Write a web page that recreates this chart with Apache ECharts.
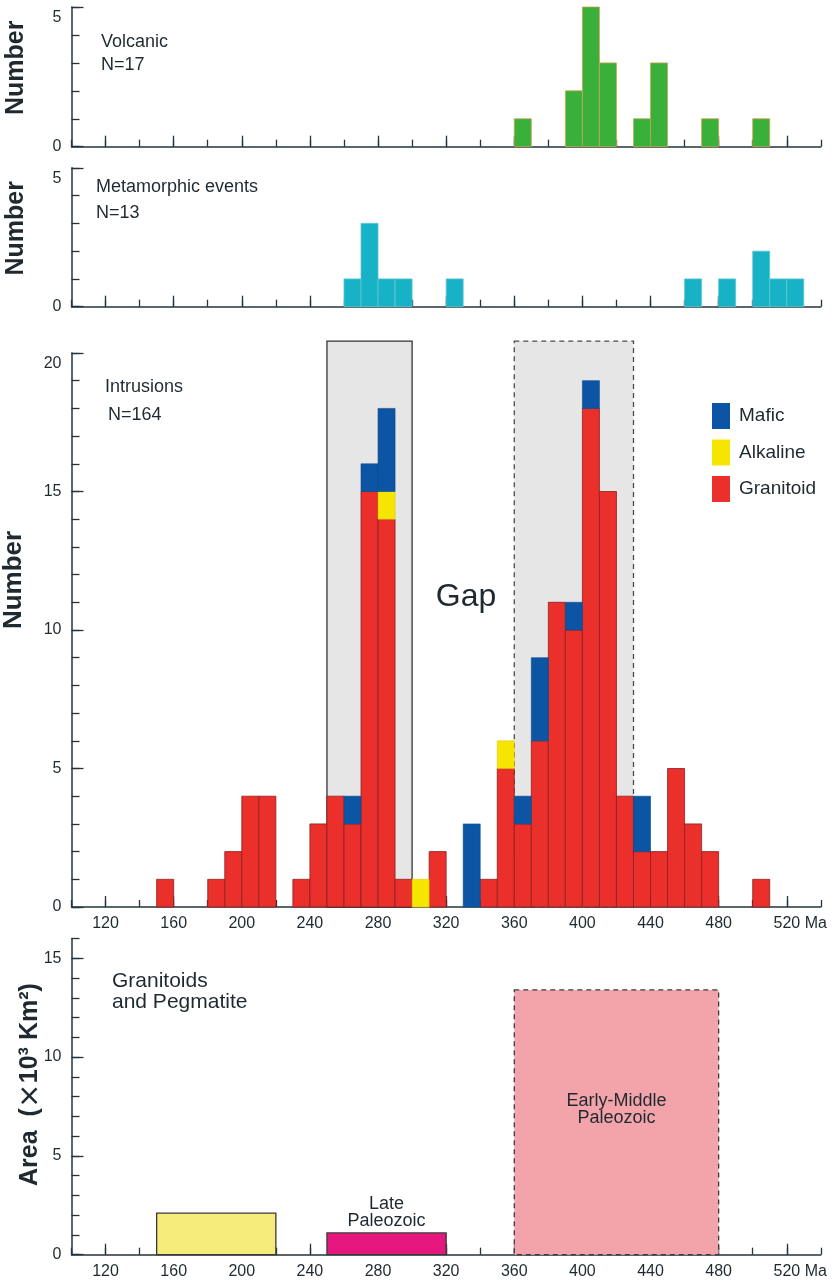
<!DOCTYPE html>
<html><head><meta charset="utf-8">
<script src="https://cdn.jsdelivr.net/npm/echarts@6/dist/echarts.min.js"></script>
<style>html,body{margin:0;padding:0;background:#fff}#c{width:833px;height:1287px}</style>
</head><body><div id="c"></div>
<script>
// ---------------- data ----------------
const BIN = 10; // Ma, histogram bin width
const volcanicBins   = [360, 390, 400, 410, 430, 440, 470, 500];
const volcanicCounts = [1, 2, 5, 3, 1, 3, 1, 1];

const metamorphicBins   = [260, 270, 280, 290, 320, 460, 480, 500, 510, 520];
const metamorphicCounts = [1, 3, 1, 1, 1, 1, 1, 2, 1, 1];

const intrusionBins = [150,180,190,200,210,230,240,250,260,270,280,290,300,310,330,340,350,360,370,380,390,400,410,420,430,440,450,460,470,500];
const granitoid     = [1,  1,  2,  4,  4,  1,  3,  4,  3,  15, 14, 1,  0,  2,  0,  1,  5,  3,  6,  11, 10, 18, 15, 4,  2,  2,  5,  3,  2,  1];
const alkaline      = [0,  0,  0,  0,  0,  0,  0,  0,  0,  0,  1,  0,  1,  0,  0,  0,  1,  0,  0,  0,  0,  0,  0,  0,  0,  0,  0,  0,  0,  0];
const mafic         = [0,  0,  0,  0,  0,  0,  0,  0,  1,  1,  3,  0,  0,  0,  3,  0,  0,  1,  3,  0,  1,  1,  0,  0,  2,  0,  0,  0,  0,  0];

const gapStart  = [250, 360];
const gapEnd    = [300, 430];
const gapTop    = [20.43, 20.43];
const gapDashed = [false, true];

const areaStart  = [150, 250, 360];
const areaEnd    = [220, 320, 480];
const areaValue  = [2.1, 1.1, 13.4];
const areaLabels = ['', 'Late\nPaleozoic', 'Early-Middle\nPaleozoic'];

const xMajorTicks = [120, 160, 200, 240, 280, 320, 360, 400, 440, 480, 520];

// ---------------- styling / layout ----------------
const FONT = "'Liberation Sans', Arial, sans-serif";
const AX = '#24343c';
const TXT = '#1f2a30';
const C = { green:'#39b03a', cyan:'#17b2c6', red:'#eb2f2b', yellow:'#f6e500', blue:'#0b55a4',
            gray:'#e6e6e6', ayellow:'#f6ec7a', magenta:'#e5177e', pink:'#f3a4aa' };
const L = 71.5, PX = 1.703, W = 440 * PX;
const TL = L + 20 * PX, TW = 400 * PX;
const panels = [
  { top: 7,     bottom: 146.7, max: 5 },
  { top: 167.8, bottom: 306.7, max: 5 },
  { top: 353,   bottom: 907,   max: 20 },
  { top: 938.5, bottom: 1254.7, max: 16 }
];
const areaUnit = (1254.7 - 938.5) / 16;

const grids = [];
panels.forEach(p => grids.push({ left: L, width: W, top: p.top, height: p.bottom - p.top, outerBoundsMode: 'none' }));
panels.forEach((p, i) => {
  const top = i === 3 ? p.top + areaUnit : p.top;
  grids.push({ left: TL, width: TW, top: top, height: p.bottom - top, outerBoundsMode: 'none' });
});

function primaryX(gi) {
  return { gridIndex: gi, type: 'value', min: 100, max: 540, interval: 20,
    axisLine: { show: true, onZero: false, lineStyle: { color: AX, width: 1.5 } },
    axisTick: { show: true, inside: true, length: 7, lineStyle: { color: AX, width: 1.3 } },
    axisLabel: { show: false }, splitLine: { show: false } };
}
function tickX(gi, showLabels) {
  return { gridIndex: gi, type: 'value', min: xMajorTicks[0], max: xMajorTicks[xMajorTicks.length - 1], interval: 40,
    axisLine: { show: false },
    axisTick: { show: true, inside: true, length: 11, lineStyle: { color: AX, width: 1.3 } },
    axisLabel: { show: showLabels, margin: 9, color: TXT, fontSize: 16, fontFamily: FONT,
      formatter: v => v === 520 ? '{p|}{n|520}{n| Ma}' : String(v),
      rich: { p: { width: 27 }, n: { fontSize: 16, fontFamily: FONT, color: TXT } } },
    splitLine: { show: false } };
}
function primaryY(gi, max, name, nameGap, pad, fs, rich) {
  return { gridIndex: gi, type: 'value', min: 0, max: max, interval: 1,
    axisLine: { show: true, onZero: false, lineStyle: { color: AX, width: 1.5 } },
    axisTick: { show: true, inside: true, length: 8, lineStyle: { color: AX, width: 1.3 } },
    axisLabel: { show: false }, splitLine: { show: false },
    name: name, nameLocation: 'middle', nameGap: nameGap,
    nameTextStyle: { fontSize: fs, fontWeight: 'bold', fontFamily: FONT, color: TXT, padding: pad, rich: rich || {} } };
}
function tickY(gi, max, shiftTop) {
  return { gridIndex: gi, type: 'value', min: 0, max: max, interval: 5, offset: TL - L,
    axisLine: { show: false },
    axisTick: { show: true, inside: true, length: 12, lineStyle: { color: AX, width: 1.3 } },
    axisLabel: { show: true, margin: 10, color: TXT, fontSize: 16, fontFamily: FONT,
      formatter: v => (shiftTop && v === max) ? '{t|' + v + '}' : String(v),
      rich: { t: { padding: [21, 0, 0, 0], fontSize: 16, fontFamily: FONT, color: TXT } } },
    splitLine: { show: false } };
}

const areaRich = { x: { fontSize: 25, fontFamily: "'Noto Sans CJK SC', sans-serif", color: TXT } };
const xAxes = [primaryX(0), primaryX(1), primaryX(2), primaryX(3),
               tickX(4, false), tickX(5, false), tickX(6, true), tickX(7, true)];
const yAxes = [
  primaryY(0, 5, 'Number', 43, [0, 0, 0, 18], 25),
  primaryY(1, 5, 'Number', 43, [0, 0, 0, 18], 25),
  primaryY(2, 20, 'Number', 45, [0, 0, 0, 100], 26),
  primaryY(3, 16, 'Area  ({x|\u00d7}10\u00b3 Km\u00b2)', 29, [0, 0, 0, 24], 25, areaRich),
  tickY(4, 5, true), tickY(5, 5, true), tickY(6, 20, true), tickY(7, 15, false)
];

function barRender(fill, stroke, lw) {
  return function (params, api) {
    const s = api.value(0), v = api.value(1), b = api.value(2);
    const p0 = api.coord([s, b + v]);
    const p1 = api.coord([s + BIN, b]);
    return { type: 'rect', shape: { x: p0[0], y: p0[1], width: p1[0] - p0[0], height: p1[1] - p0[1] },
      style: { fill: fill, stroke: stroke, lineWidth: lw } };
  };
}
function histData(bins, vals, bases) {
  const out = [];
  bins.forEach((b, i) => { if (vals[i] > 0) out.push([b, vals[i], bases ? bases[i] : 0]); });
  return out;
}
const alkBase = granitoid.slice();
const mafBase = granitoid.map((g, i) => g + alkaline[i]);

const series = [
  { type: 'custom', name: 'Volcanic', xAxisIndex: 0, yAxisIndex: 0, z: 3,
    data: histData(volcanicBins, volcanicCounts), renderItem: barRender(C.green, '#c9a552', 0.8) },
  { type: 'custom', name: 'Metamorphic', xAxisIndex: 1, yAxisIndex: 1, z: 3,
    data: histData(metamorphicBins, metamorphicCounts), renderItem: barRender(C.cyan, '#63c6d2', 0.8) },
  { type: 'custom', name: 'Gap boxes', xAxisIndex: 2, yAxisIndex: 2, z: 1,
    data: gapStart.map((s, i) => [s, gapEnd[i], gapTop[i], gapDashed[i] ? 1 : 0]),
    renderItem: function (params, api) {
      const p0 = api.coord([api.value(0), api.value(2)]);
      const p1 = api.coord([api.value(1), 0]);
      const dashed = api.value(3) === 1;
      return { type: 'rect', shape: { x: p0[0], y: p0[1], width: p1[0] - p0[0], height: p1[1] - p0[1] },
        style: { fill: C.gray, stroke: dashed ? '#4a4a4a' : '#333', lineWidth: 1.3, lineDash: dashed ? [5, 4] : null } };
    } },
  { type: 'custom', name: 'Granitoid', xAxisIndex: 2, yAxisIndex: 2, z: 3, itemStyle: { color: C.red },
    data: histData(intrusionBins, granitoid), renderItem: barRender(C.red, '#8c2020', 0.8) },
  { type: 'custom', name: 'Alkaline', xAxisIndex: 2, yAxisIndex: 2, z: 3, itemStyle: { color: C.yellow },
    data: histData(intrusionBins, alkaline, alkBase), renderItem: barRender(C.yellow, '#e0c800', 0.6) },
  { type: 'custom', name: 'Mafic', xAxisIndex: 2, yAxisIndex: 2, z: 3, itemStyle: { color: C.blue },
    data: histData(intrusionBins, mafic, mafBase), renderItem: barRender(C.blue, '#0b4a8c', 0.6) },
  { type: 'custom', name: 'Area', xAxisIndex: 3, yAxisIndex: 3, z: 3,
    data: areaStart.map((s, i) => [s, areaEnd[i], areaValue[i], i]),
    renderItem: function (params, api) {
      const i = api.value(3);
      const s = api.value(0), e = api.value(1), v = api.value(2);
      const p0 = api.coord([s, v]);
      const p1 = api.coord([e, 0]);
      const fills = [C.ayellow, C.magenta, C.pink];
      const children = [{ type: 'rect', shape: { x: p0[0], y: p0[1], width: p1[0] - p0[0], height: p1[1] - p0[1] },
        style: { fill: fills[i], stroke: '#3a3a3a', lineWidth: 1.3, lineDash: i === 2 ? [5, 4] : null } }];
      const lbl = areaLabels[i];
      if (lbl) {
        const cx = (p0[0] + p1[0]) / 2;
        let cy, va;
        if (i === 1) { cy = p0[1] - 3; va = 'bottom'; }
        else { cy = api.coord([s, v * 0.55])[1]; va = 'middle'; }
        children.push({ type: 'text', x: cx, y: cy, z2: 10,
          style: { text: lbl, font: '18px ' + FONT, fill: TXT, align: 'center', verticalAlign: va, lineHeight: 17 } });
      }
      return { type: 'group', children: children };
    } }
];

function txt(x, y, s, size, align) {
  return { type: 'text', x: x, y: y, z: 10,
    style: { text: s, font: size + 'px ' + FONT, fill: TXT, align: align || 'left', verticalAlign: 'middle' } };
}
const graphic = [
  txt(101, 42, 'Volcanic', 18), txt(101, 65, 'N=17', 18),
  txt(96, 187, 'Metamorphic events', 18), txt(96, 213, 'N=13', 18),
  txt(105, 387, 'Intrusions', 18), txt(108, 415, 'N=164', 18),
  txt(466, 597, 'Gap', 32, 'center'),
  txt(112, 981, 'Granitoids', 21), txt(112, 1002, 'and Pegmatite', 21)
];

const chart = echarts.init(document.getElementById('c'), null, { renderer: 'canvas' });
chart.setOption({
  backgroundColor: '#ffffff',
  animation: false,
  grid: grids,
  xAxis: xAxes,
  yAxis: yAxes,
  legend: { orient: 'vertical', left: 707, top: 398, itemWidth: 18, itemHeight: 26, itemGap: 10.5,
    icon: 'rect', selectedMode: false, data: ['Mafic', 'Alkaline', 'Granitoid'],
    textStyle: { fontSize: 19, fontFamily: FONT, color: TXT, padding: [0, 0, 0, 4] } },
  graphic: graphic,
  series: series
});
</script></body></html>
